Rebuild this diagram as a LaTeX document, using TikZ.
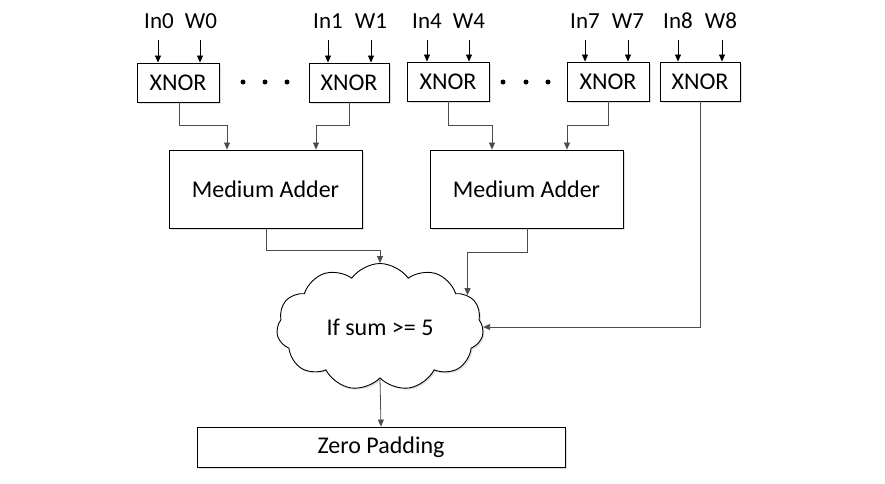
\documentclass[tikz,border=0pt]{standalone}
\usepackage{fontspec}
\setmainfont{Carlito}
\usetikzlibrary{shapes.symbols,arrows.meta,shadows}
\begin{document}
\begin{tikzpicture}[x=1pt,y=-1pt,
  box/.style={draw=black,line width=0.9pt,fill=white,inner sep=0pt,
    drop shadow={opacity=0.25,shadow xshift=1.5pt,shadow yshift=-1.5pt},
    font=\fontsize{24}{28}\selectfont},
  lbl/.style={font=\fontsize{23}{27}\selectfont,inner sep=0pt},
  inarr/.style={draw=black,line width=0.8pt,-{Triangle[width=6pt,length=7pt]}},
  conn/.style={draw=black!70,line width=0.8pt,-{Triangle[width=6pt,length=7pt]}},
  dot/.style={circle,fill=black,inner sep=0pt,minimum size=5pt}]
\useasboundingbox (0,0) rectangle (885,483);
% XNOR boxes
\node[box,minimum width=82pt,minimum height=39pt] (x0) at (178,82.5) {XNOR};
\node[box,minimum width=80pt,minimum height=39pt] (x1) at (349,82.5) {XNOR};
\node[box,minimum width=82pt,minimum height=39pt] (x4) at (448,81.5) {XNOR};
\node[box,minimum width=82pt,minimum height=39pt] (x7) at (608,81.5) {XNOR};
\node[box,minimum width=80pt,minimum height=39pt] (x8) at (700,81.5) {XNOR};
% dots
\node[dot] (d1) at (243,82) {};
\node[dot] (d2) at (265,82) {};
\node[dot] (d3) at (287,82) {};
\node[dot] (d4) at (503,82) {};
\node[dot] (d5) at (526,82) {};
\node[dot] (d6) at (548,82) {};
% input labels
\node[lbl] (in0) at (159,21) {In0};
\node[lbl] (w0) at (201,21) {W0};
\node[lbl] (in1) at (328,21) {In1};
\node[lbl] (w1) at (371,21) {W1};
\node[lbl] (in4) at (427,21) {In4};
\node[lbl] (w4) at (469,21) {W4};
\node[lbl] (in7) at (585,21) {In7};
\node[lbl] (w7) at (628,21) {W7};
\node[lbl] (in8) at (678,21) {In8};
\node[lbl] (w8) at (721,21) {W8};
% input arrows
\foreach \n/\b/\xx in {in0/x0/158,w0/x0/200,in1/x1/328,w1/x1/371,in4/x4/427,w4/x4/469,in7/x7/585,w7/x7/628,in8/x8/678,w8/x8/722}{
  \draw[inarr] (\xx,40) -- (\xx,0 |- \b.north);
}
% medium adders
\node[box,minimum width=193pt,minimum height=78pt] (ma1) at (265.5,189) {Medium Adder};
\node[box,minimum width=193pt,minimum height=78pt] (ma2) at (526.5,189) {Medium Adder};
% cloud
\node[draw=black,line width=0.9pt,fill=white,cloud,cloud puffs=11,cloud puff arc=110,
  aspect=1.6,minimum width=207pt,minimum height=127pt,inner sep=0pt,
  font=\fontsize{24}{28}\selectfont,
  drop shadow={opacity=0.25,shadow xshift=1.5pt,shadow yshift=-1.5pt}] (cl) at (380,327) {If sum >= 5};
% zero padding
\node[box,minimum width=368pt,minimum height=40pt] (zp) at (381,447) {Zero Padding};
% connectors
\draw[conn] (179,0 |- x0.south) -- (179,125) -| (227,0 |- ma1.north);
\draw[conn] (349,0 |- x1.south) -- (349,125) -| (316,0 |- ma1.north);
\draw[conn] (448,0 |- x4.south) -- (448,125) -| (492,0 |- ma2.north);
\draw[conn] (608,0 |- x7.south) -- (608,125) -| (567,0 |- ma2.north);
\draw[conn] (x8.south) |- (cl.east);
\draw[conn] (266,0 |- ma1.south) -- (266,250) -| (cl.north);
\draw[conn] (527,0 |- ma2.south) -- (527,252) -| (cl.20);
\draw[conn] (cl.south) -- (zp.north);
\end{tikzpicture}
\end{document}
